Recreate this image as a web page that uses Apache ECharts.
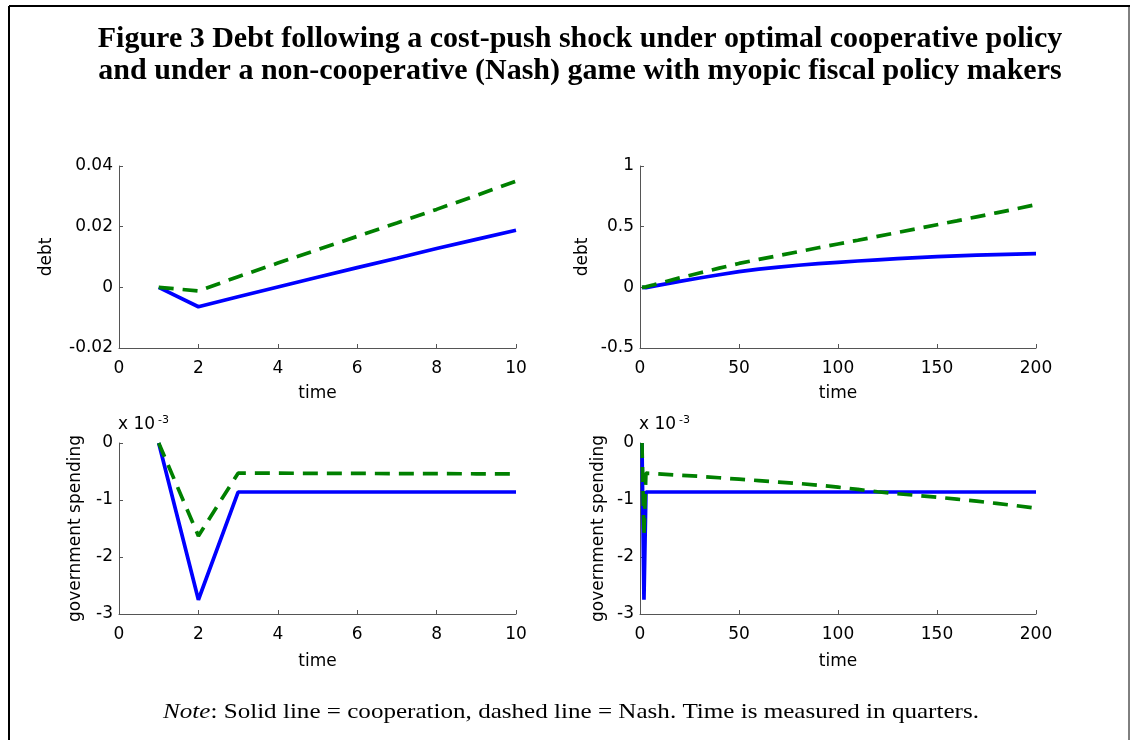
<!DOCTYPE html>
<html>
<head>
<meta charset="utf-8">
<script src="https://cdn.jsdelivr.net/npm/echarts@6/dist/echarts.min.js"></script>
<style>
html,body{margin:0;padding:0;background:#fff;}
#chart{width:1130px;height:740px;}
</style>
</head>
<body>
<div id="chart"></div>
<script>
// ---- data (time in quarters) ----
var time = [1,2,3,4,5,6,7,8,9,10,20,30,40,50,60,70,80,90,100,110,120,130,140,150,160,170,180,190,200];
// debt, cooperation (solid)
var debtCoop = [0,-0.0064,-0.0031,0.0001,0.0033,0.0065,0.0096,0.0128,0.0158,0.0188,
  0.049,0.077,0.104,0.130,0.150,0.167,0.182,0.195,0.206,0.217,0.227,0.236,0.245,0.253,0.259,0.265,0.270,0.274,0.277];
// debt, Nash (dashed)
var debtNash = [0,-0.0012,0.0035,0.0080,0.0124,0.0168,0.0212,0.0257,0.0303,0.0350,
  0.078,0.118,0.158,0.197,0.230,0.262,0.294,0.326,0.357,0.388,0.420,0.452,0.484,0.516,0.548,0.581,0.614,0.647,0.682];
// government spending, in units of 10^-3
var govCoop = [0,-2.75,-0.86,-0.86,-0.86,-0.86,-0.86,-0.86,-0.86,-0.86,
  -0.86,-0.86,-0.86,-0.86,-0.86,-0.86,-0.86,-0.86,-0.86,-0.86,-0.86,-0.86,-0.86,-0.86,-0.86,-0.86,-0.86,-0.86,-0.86];
var govNash = [0,-1.63,-0.53,-0.53,-0.532,-0.534,-0.536,-0.538,-0.54,-0.542,
  -0.565,-0.585,-0.61,-0.635,-0.66,-0.685,-0.71,-0.74,-0.775,-0.815,-0.855,-0.89,-0.92,-0.95,-0.985,-1.02,-1.06,-1.10,-1.145];

var titleLines = ['Figure 3 Debt following a cost-push shock under optimal cooperative policy',
                  'and under a non-cooperative (Nash) game with myopic fiscal policy makers'];
var noteItalic = 'Note';
var noteRest = ': Solid line = cooperation, dashed line = Nash. Time is measured in quarters.';
var xName = 'time';
var yNames = ['debt','debt','government spending','government spending'];
var expLabel = ['x 10', '-3'];

function pairs(arr, maxT){
  var out = [];
  for (var i = 0; i < time.length; i++) if (time[i] <= maxT) out.push([time[i], arr[i]]);
  return out;
}

var FONT = '"DejaVu Sans", "Liberation Sans", Arial, sans-serif';
var FS = 17;
var axisCol = '#555';
var grids = [
  {left:119, top:166, width:397, height:182},
  {left:640, top:166, width:396, height:182},
  {left:119, top:443, width:397, height:171},
  {left:640, top:443, width:396, height:171}
];
var xMax = [10,200,10,200], xInt = [2,50,2,50];
var yMin = [-0.02,-0.5,-3,-3], yMax = [0.04,1,0,0], yInt = [0.02,0.5,1,1];
var yNameGap = [64,49,35,33];

function fmtY(v){ var r = Math.round(v*1000)/1000; return String(r); }

var xAxes = [], yAxes = [];
for (var k = 0; k < 4; k++){
  xAxes.push({
    type:'value', gridIndex:k, min:0, max:xMax[k], interval:xInt[k],
    name:xName, nameLocation:'middle', nameGap:(k < 2 ? 37 : 39),
    nameTextStyle:{fontFamily:FONT, fontSize:FS, color:'#000'},
    axisLine:{show:true, onZero:false, lineStyle:{color:axisCol, width:1}},
    axisTick:{show:true, inside:true, length:4, lineStyle:{color:axisCol}},
    axisLabel:{fontFamily:FONT, fontSize:FS, color:'#000', margin:12},
    splitLine:{show:false}
  });
  yAxes.push({
    type:'value', gridIndex:k, min:yMin[k], max:yMax[k], interval:yInt[k],
    name:yNames[k], nameLocation:'middle', nameGap:yNameGap[k],
    nameTextStyle:{fontFamily:FONT, fontSize:FS, color:'#000'},
    axisLine:{show:true, onZero:false, lineStyle:{color:axisCol, width:1}},
    axisTick:{show:true, inside:true, length:4, lineStyle:{color:axisCol}},
    axisLabel:{fontFamily:FONT, fontSize:FS, color:'#000', margin:6, formatter:fmtY},
    splitLine:{show:false}
  });
}

function solid(k, data){
  return {type:'line', xAxisIndex:k, yAxisIndex:k, data:data, showSymbol:false, symbol:'none',
    lineStyle:{color:'#0000ff', width:3.7, type:'solid'}, z:2, animation:false};
}
function dashed(k, data){
  return {type:'line', xAxisIndex:k, yAxisIndex:k, data:data, showSymbol:false, symbol:'none',
    lineStyle:{color:'#008000', width:3.7, type:[15,9]}, z:3, animation:false};
}

var series = [
  solid(0, pairs(debtCoop,10)), dashed(0, pairs(debtNash,10)),
  solid(1, pairs(debtCoop,200)), dashed(1, pairs(debtNash,200)),
  solid(2, pairs(govCoop,10)), dashed(2, pairs(govNash,10)),
  solid(3, pairs(govCoop,200)), dashed(3, pairs(govNash,200))
];

var SERIF = '"Liberation Serif", "Times New Roman", serif';
var graphics = [
  {type:'line', shape:{x1:9, y1:6, x2:1130, y2:6}, style:{stroke:'#000', lineWidth:2}},
  {type:'line', shape:{x1:9, y1:6, x2:9, y2:740}, style:{stroke:'#000', lineWidth:2}},
  {type:'line', shape:{x1:1129, y1:6, x2:1129, y2:740}, style:{stroke:'#000', lineWidth:1}},
  {type:'text', x:580, y:39, style:{text:titleLines[0], font:'bold 30px ' + SERIF, fill:'#000', textAlign:'center', textVerticalAlign:'middle'}},
  {type:'text', x:580, y:71, style:{text:titleLines[1], font:'bold 30px ' + SERIF, fill:'#000', textAlign:'center', textVerticalAlign:'middle'}},
  {type:'text', x:571, y:712, scaleX:1.14, style:{
    text:'{i|' + noteItalic + '}{r|' + noteRest + '}',
    rich:{
      i:{font:'italic 22px ' + SERIF, fill:'#000'},
      r:{font:'22px ' + SERIF, fill:'#000'}
    },
    textAlign:'center', textVerticalAlign:'middle'}}
];
[119, 640].forEach(function(ax){
  graphics.push({type:'text', x:ax-1, y:433, style:{text:expLabel[0], font:FS + 'px ' + FONT, fill:'#000', textAlign:'left', textVerticalAlign:'bottom'}});
  graphics.push({type:'text', x:ax+39, y:426, style:{text:expLabel[1], font:'11px ' + FONT, fill:'#000', textAlign:'left', textVerticalAlign:'bottom'}});
});

var chart = echarts.init(document.getElementById('chart'), null, {renderer:'canvas'});
chart.setOption({
  animation:false,
  backgroundColor:'#fff',
  grid:grids,
  xAxis:xAxes,
  yAxis:yAxes,
  series:series,
  graphic:graphics
});
</script>
</body>
</html>
